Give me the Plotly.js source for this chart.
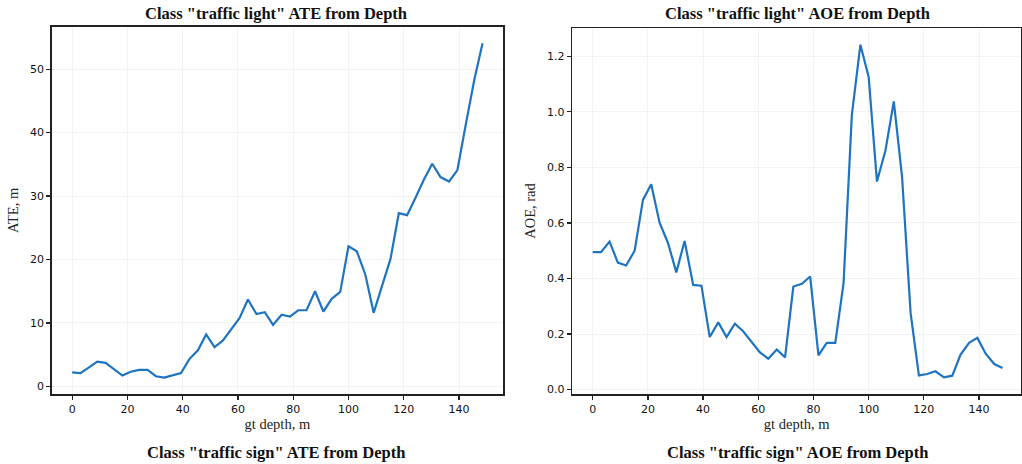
<!DOCTYPE html>
<html>
<head>
<meta charset="utf-8">
<script src="https://cdn.plot.ly/plotly-3.0.1.min.js"></script>
<style>html,body{margin:0;padding:0;background:#fff;}#chart{width:1022px;height:464px;}</style>
</head>
<body>
<div id="chart"></div>
<script>
// gt depth, m (sample positions)
const depth = [0, 3.0, 6.1, 9.1, 12.1, 15.2, 18.2, 21.2, 24.2, 27.3,
  30.3, 33.3, 36.4, 39.4, 42.4, 45.5, 48.5, 51.5, 54.5, 57.6,
  60.6, 63.6, 66.7, 69.7, 72.7, 75.8, 78.8, 81.8, 84.8, 87.9,
  90.9, 93.9, 97.0, 100.0, 103.0, 106.1, 109.1, 112.1, 115.2, 118.2,
  121.2, 124.2, 127.3, 130.3, 133.3, 136.4, 139.4, 142.4, 145.5, 148.5];

// traffic light ATE, m
const ateTrafficLight = [2.2, 2.1, 3.0, 3.9, 3.7, 2.7, 1.7, 2.3, 2.6, 2.6,
  1.6, 1.4, 1.7, 2.1, 4.3, 5.7, 8.2, 6.2, 7.2, 9.1,
  10.8, 13.7, 11.4, 11.7, 9.7, 11.3, 11.0, 12.0, 12.0, 15.0,
  11.8, 13.8, 14.9, 22.1, 21.3, 17.6, 11.6, 15.8, 20.1, 27.3,
  27.0, 29.7, 32.6, 35.1, 33.0, 32.3, 34.1, 41.2, 48.3, 54.1];

// traffic light AOE, rad
const aoeTrafficLight = [0.495, 0.495, 0.533, 0.457, 0.447, 0.50, 0.683, 0.739, 0.602, 0.527,
  0.422, 0.535, 0.377, 0.374, 0.189, 0.242, 0.189, 0.237, 0.210, 0.171,
  0.134, 0.111, 0.144, 0.116, 0.371, 0.381, 0.407, 0.123, 0.168, 0.168,
  0.383, 0.988, 1.242, 1.126, 0.749, 0.862, 1.038, 0.766, 0.275, 0.051,
  0.056, 0.066, 0.044, 0.050, 0.126, 0.168, 0.186, 0.129, 0.092, 0.078];

const xTicks = [0, 20, 40, 60, 80, 100, 120, 140];
const ateTicks = [0, 10, 20, 30, 40, 50];
const aoeTicks = [0.0, 0.2, 0.4, 0.6, 0.8, 1.0, 1.2];
const aoeTickText = ['0.0', '0.2', '0.4', '0.6', '0.8', '1.0', '1.2'];

const titles = {
  ateTop: 'Class "traffic light" ATE from Depth',
  aoeTop: 'Class "traffic light" AOE from Depth',
  ateBottom: 'Class "traffic sign" ATE from Depth',
  aoeBottom: 'Class "traffic sign" AOE from Depth'
};

const lineColor = '#1f74c2';
const tickFont = {family: 'DejaVu Sans, sans-serif', size: 11, color: '#111'};
const serif = 'Liberation Serif, DejaVu Serif, serif';
const axTitleFont = {family: serif, size: 14.5, color: '#222'};
const mainTitleFont = {family: serif, size: 16.5, color: '#111', weight: 'bold'};

const traces = [
  {x: depth, y: ateTrafficLight, type: 'scatter', mode: 'lines', xaxis: 'x', yaxis: 'y',
   line: {color: lineColor, width: 2.2}, hoverinfo: 'x+y'},
  {x: depth, y: aoeTrafficLight, type: 'scatter', mode: 'lines', xaxis: 'x2', yaxis: 'y2',
   line: {color: lineColor, width: 2.2}, hoverinfo: 'x+y'}
];

function axisBase() {
  return {
    showline: true, linecolor: '#222', linewidth: 1.5, mirror: true,
    ticks: 'outside', ticklen: 4, tickwidth: 1.2, tickcolor: '#222',
    showgrid: true, gridcolor: '#f3f3f3', gridwidth: 1,
    zeroline: false, tickfont: tickFont
  };
}

const W = 1022, H = 464;
function titleAnn(text, xpx, ypx) {
  return {text: text, x: xpx / W, y: (H - ypx) / H, xref: 'paper', yref: 'paper',
    showarrow: false, xanchor: 'center', yanchor: 'middle', font: mainTitleFont};
}

const layout = {
  width: W, height: H,
  margin: {l: 0, r: 0, t: 0, b: 0},
  paper_bgcolor: '#fff', plot_bgcolor: '#fff',
  showlegend: false,
  xaxis: Object.assign(axisBase(), {
    domain: [51.7 / W, 503 / W], range: [-7.4, 155.9],
    tickvals: xTicks, anchor: 'y',
    title: {text: 'gt depth, m', font: axTitleFont, standoff: 3}
  }),
  yaxis: Object.assign(axisBase(), {
    domain: [(H - 394) / H, (H - 26.7) / H], range: [-1.2, 56.7],
    tickvals: ateTicks, anchor: 'x',
    title: {text: 'ATE, m', font: axTitleFont, standoff: 8}
  }),
  xaxis2: Object.assign(axisBase(), {
    domain: [572.3 / W, 1021 / W], range: [-7.4, 155.2],
    tickvals: xTicks, anchor: 'y2',
    title: {text: 'gt depth, m', font: axTitleFont, standoff: 3}
  }),
  yaxis2: Object.assign(axisBase(), {
    domain: [(H - 394) / H, (H - 28) / H], range: [-0.016, 1.302],
    tickvals: aoeTicks, ticktext: aoeTickText, anchor: 'x2',
    title: {text: 'AOE, rad', font: axTitleFont, standoff: 8}
  }),
  annotations: [
    titleAnn(titles.ateTop, 276, 14),
    titleAnn(titles.aoeTop, 797, 14),
    titleAnn(titles.ateBottom, 276, 452),
    titleAnn(titles.aoeBottom, 797, 452)
  ]
};

Plotly.newPlot('chart', traces, layout, {staticPlot: true, displayModeBar: false});
</script>
</body>
</html>
